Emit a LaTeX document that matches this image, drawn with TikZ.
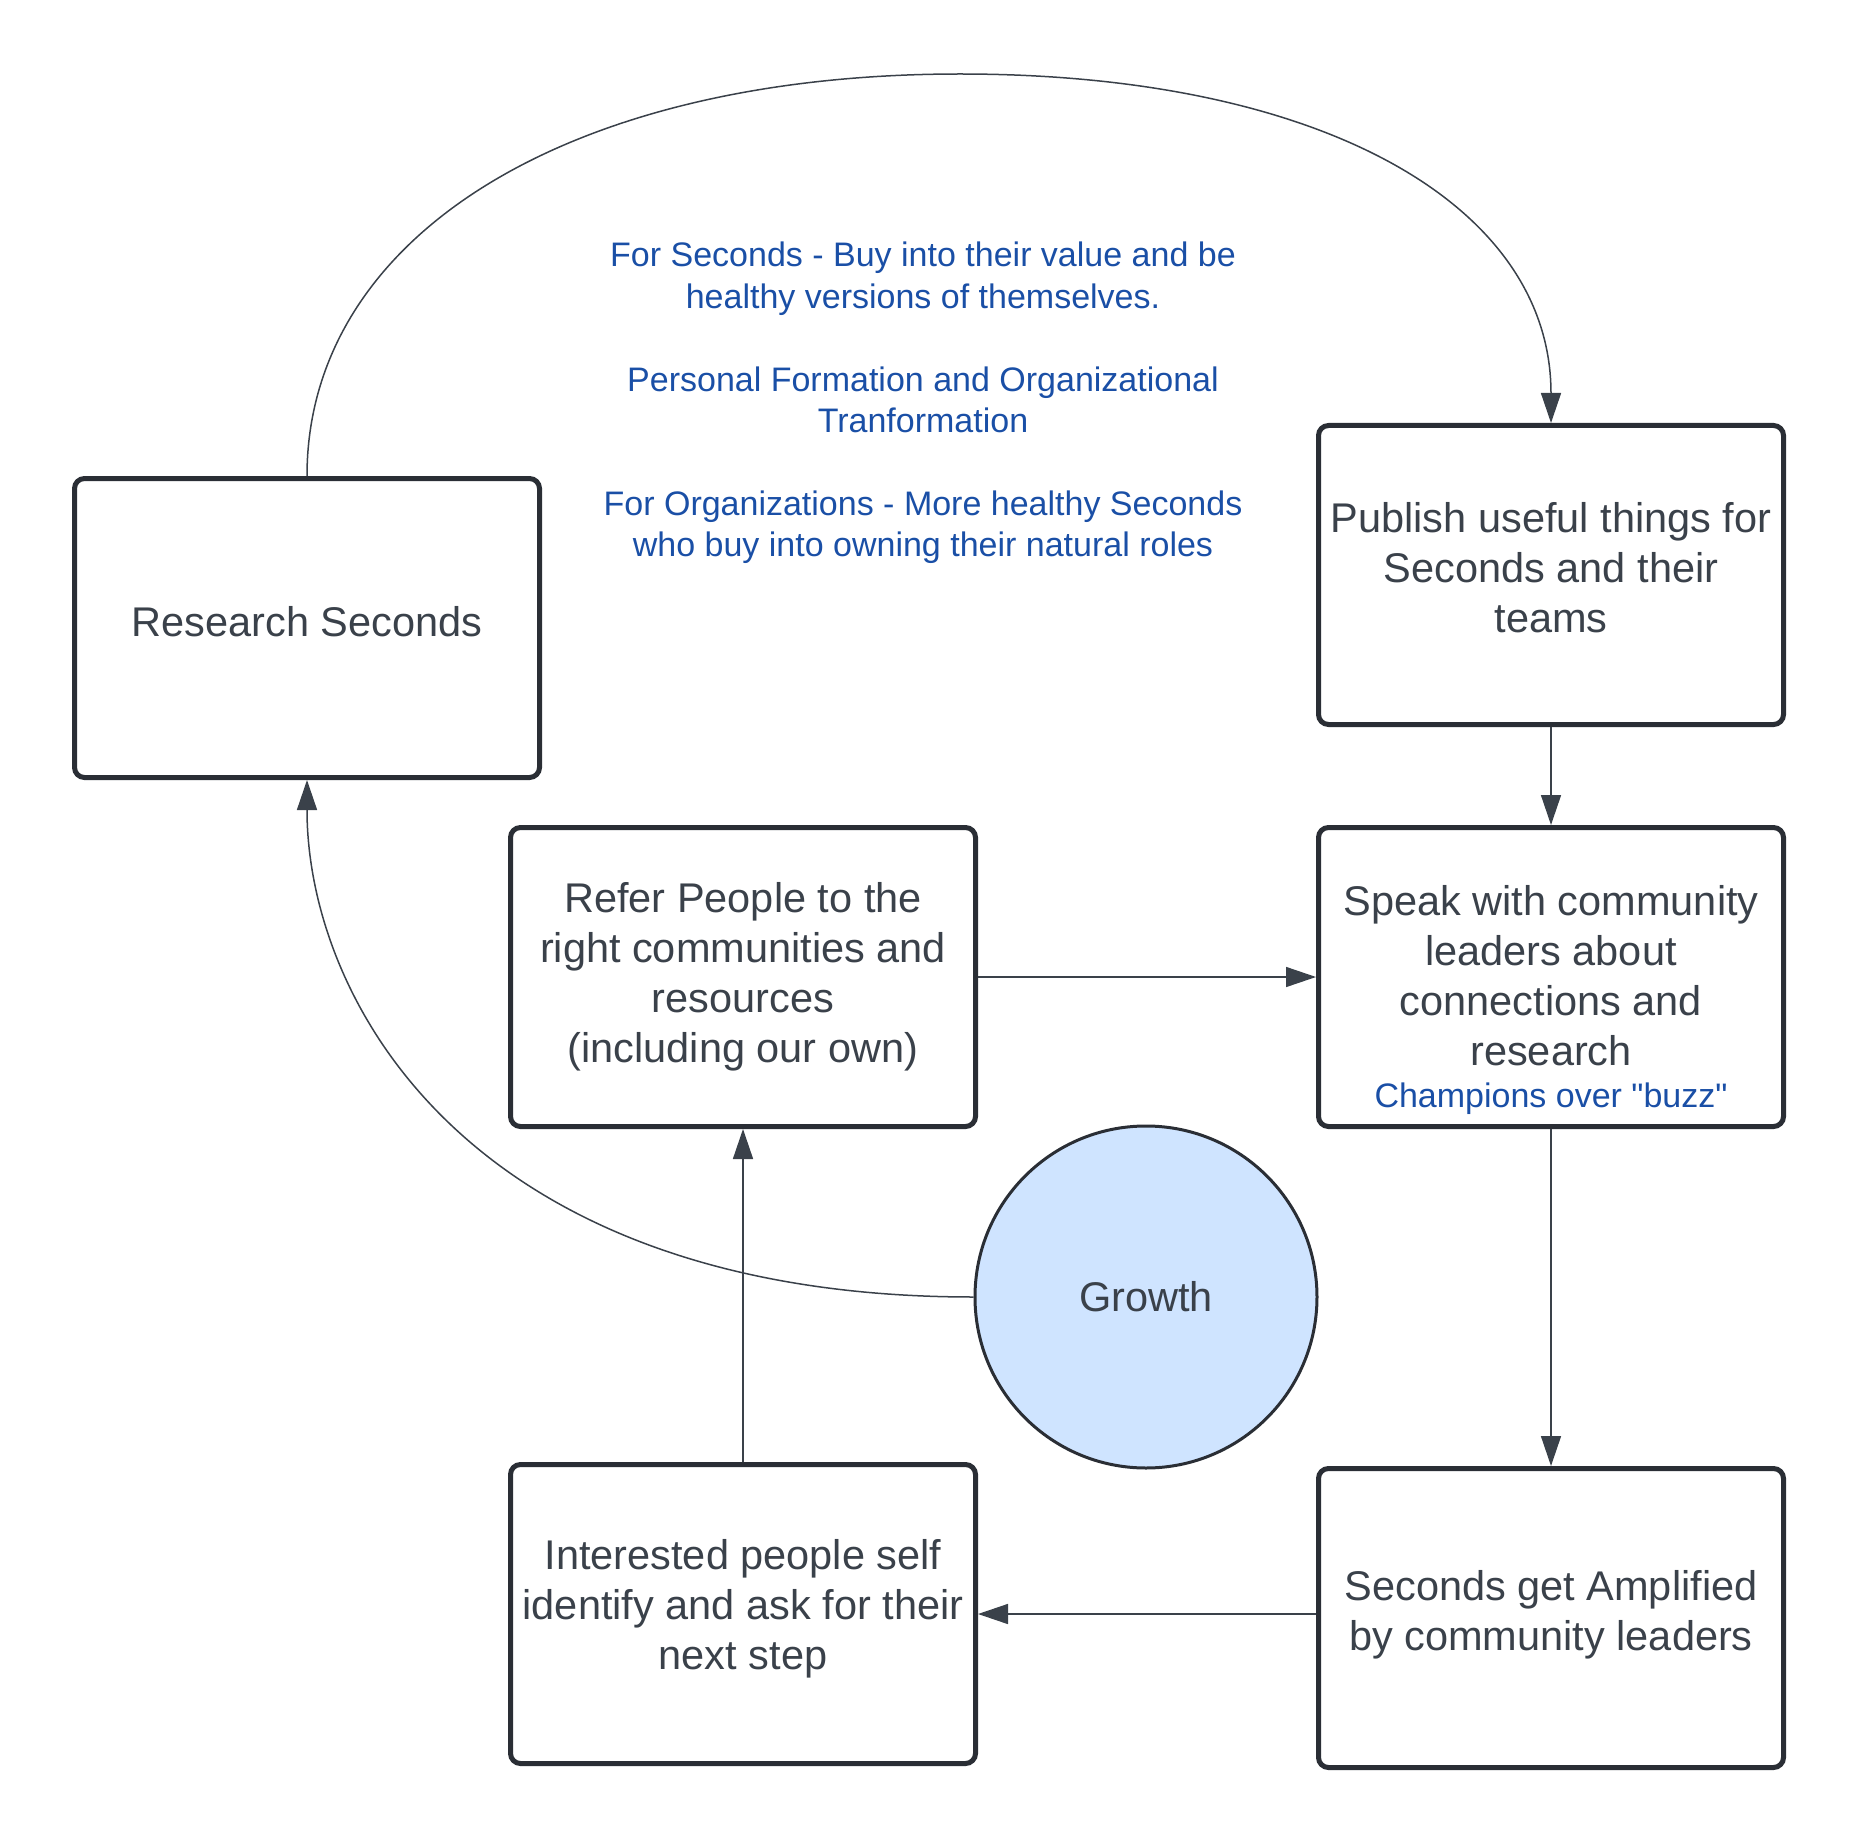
\documentclass[tikz,border=0pt]{standalone}
\usepackage{fontspec}
\setmainfont{Liberation Sans}[Ligatures=TeXOff]
\usetikzlibrary{arrows.meta}
\definecolor{txt}{HTML}{3A414A}
\definecolor{bord}{HTML}{2A2E35}
\definecolor{bluetxt}{HTML}{1A4FA6}
\definecolor{growthfill}{HTML}{CFE4FF}
\newcommand{\dstrut}[1]{\rule[-#1]{0pt}{#1}}
\begin{document}
\begin{tikzpicture}[x=1pt,y=-1pt,
  stepbox/.style={draw=bord, line width=5pt, rounded corners=10pt, minimum width=465pt, minimum height=299pt, align=center, inner sep=2pt, text=txt, font=\fontsize{41.5}{50}\selectfont},
  conn/.style={draw=txt, line width=1.5pt, -{Triangle[length=30pt,width=20pt]}},
  note/.style={text=bluetxt, align=center, font=\fontsize{34}{41.4}\selectfont, inner sep=0pt}
]
\useasboundingbox (0,0) rectangle (1856,1843);

\node[stepbox] (research) at (307,628) {Research Seconds\dstrut{13pt}};
\node[stepbox] (publish) at (1551,575) {Publish useful things for\\Seconds and their\\teams\dstrut{16pt}};
\node[stepbox] (speak) at (1551,977) {Speak with community\\leaders about\\connections and\\research\dstrut{3pt}};
\node[note] (champ) at (1551,1099) {Champions over "buzz"};
\node[stepbox] (refer) at (743,977) {Refer People to the\\right communities and\\resources\\(including our own)};
\node[stepbox] (interested) at (743,1614) {Interested people self\\identify and ask for their\\next step\dstrut{19pt}};
\node[stepbox] (amplified) at (1551,1618) {Seconds get Amplified\\by community leaders\dstrut{16pt}};
\node[circle, draw=bord, line width=3pt, fill=growthfill, minimum size=342pt, inner sep=0pt, text=txt, font=\fontsize{41.5}{50}\selectfont] (growth) at (1146,1297) {Growth};

\node[note] (goals) at (923,403) {For Seconds - Buy into their value and be\\healthy versions of themselves.\\[41.4pt]Personal Formation and Organizational\\Tranformation\\[41.4pt]For Organizations - More healthy Seconds\\who buy into owning their natural roles};

\draw[conn] (research.north) .. controls (307,236) and (568,74) .. (960,74) .. controls (1326,74) and (1551,207) .. (publish.north);
\draw[conn] (publish.south) -- (speak.north);
\draw[conn] (refer.east) -- (speak.west);
\draw[conn] (speak.south) -- (amplified.north);
\draw[conn] (amplified.west |- interested.east) -- (interested.east);
\draw[conn] (interested.north) -- (refer.south);
\draw[conn] (growth.west) .. controls (466,1297) and (307,998) .. (research.south);
\end{tikzpicture}
\end{document}
